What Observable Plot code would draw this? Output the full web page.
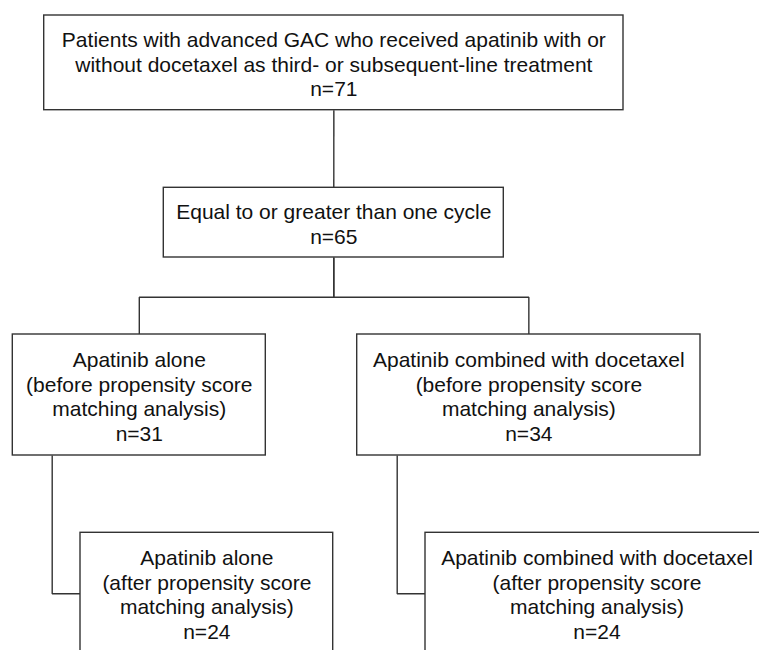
<!DOCTYPE html>
<html>
<head>
<meta charset="utf-8">
<script src="https://cdn.jsdelivr.net/npm/d3@7"></script>
<script src="https://cdn.jsdelivr.net/npm/@observablehq/plot@0.6"></script>
<style>
  html, body { margin: 0; padding: 0; background: #fff; }
  #chart { width: 759px; height: 650px; overflow: hidden; }
</style>
</head>
<body>
<div id="chart"></div>
<script>
// ---- chart content ----
const stageLabels = [
  "Patients with advanced GAC who received apatinib with or\nwithout docetaxel as third- or subsequent-line treatment",
  "Equal to or greater than one cycle",
  "Apatinib alone\n(before propensity score\nmatching analysis)",
  "Apatinib combined with docetaxel\n(before propensity score\nmatching analysis)",
  "Apatinib alone\n(after propensity score\nmatching analysis)",
  "Apatinib combined with docetaxel\n(after propensity score\nmatching analysis)"
];
const stageCounts = [71, 65, 31, 34, 24, 24];
// parent -> child relations of the flow
const flowEdges = [[0, 1], [1, 2], [1, 3], [2, 4], [3, 5]];

// ---- layout (pixel space of the page) ----
const boxLeft   = [43.7, 163.3, 12.3, 356.7, 80.0, 425.0];
const boxRight  = [623.0, 503.3, 265.3, 700.0, 332.7, 768.0];
const boxTop    = [15.0, 187.3, 334.0, 334.0, 532.3, 532.3];
const boxBottom = [109.7, 257.0, 455.0, 455.0, 653.3, 653.3];
const busY = 296.7;          // horizontal split line under box 2
const sideX = [51.7, 396.7]; // drop lines for the matched groups

const boxes = stageLabels.map((label, i) => ({
  label: label + "\nn=" + stageCounts[i],
  x1: boxLeft[i], x2: boxRight[i], y1: boxTop[i], y2: boxBottom[i],
  cx: (boxLeft[i] + boxRight[i]) / 2,
  cy: (boxTop[i] + boxBottom[i]) / 2
}));

// connector paths derived from box geometry
const connectors = [];
flowEdges.forEach(([p, c], k) => {
  const P = boxes[p], C = boxes[c];
  if (p === 0) {
    connectors.push({k, x: P.cx, y: P.y2}, {k, x: C.cx, y: C.y1});
  } else if (p === 1) {
    connectors.push({k, x: P.cx, y: P.y2}, {k, x: P.cx, y: busY},
                    {k, x: C.cx, y: busY}, {k, x: C.cx, y: C.y1});
  } else {
    const sx = sideX[p - 2];
    const my = C.cy;
    connectors.push({k, x: sx, y: P.y2}, {k, x: sx, y: 593.3}, {k, x: C.x1, y: 593.3});
  }
});

const fontSize = 21;
const chart = Plot.plot({
  width: 759,
  height: 650,
  margin: 0,
  x: {domain: [0, 759], range: [0, 759], axis: null},
  y: {domain: [0, 650], range: [0, 650], axis: null},
  style: {background: "#fff"},
  marks: [
    Plot.line(connectors, {x: "x", y: "y", z: "k", stroke: "#333", strokeWidth: 1.4, strokeLinejoin: "miter", strokeLinecap: "butt"}),
    Plot.rect(boxes, {x1: "x1", x2: "x2", y1: "y1", y2: "y2", fill: "#fff", stroke: "#333", strokeWidth: 1.4}),
    Plot.text(boxes, {
      x: "cx", y: "cy", text: "label",
      fontSize, fontFamily: "'Liberation Sans', Arial, sans-serif",
      lineHeight: 24.5 / fontSize, textAnchor: "middle", lineAnchor: "middle",
      dy: 1, fill: "#111"
    })
  ]
});
document.getElementById("chart").appendChild(chart);
</script>
</body>
</html>
